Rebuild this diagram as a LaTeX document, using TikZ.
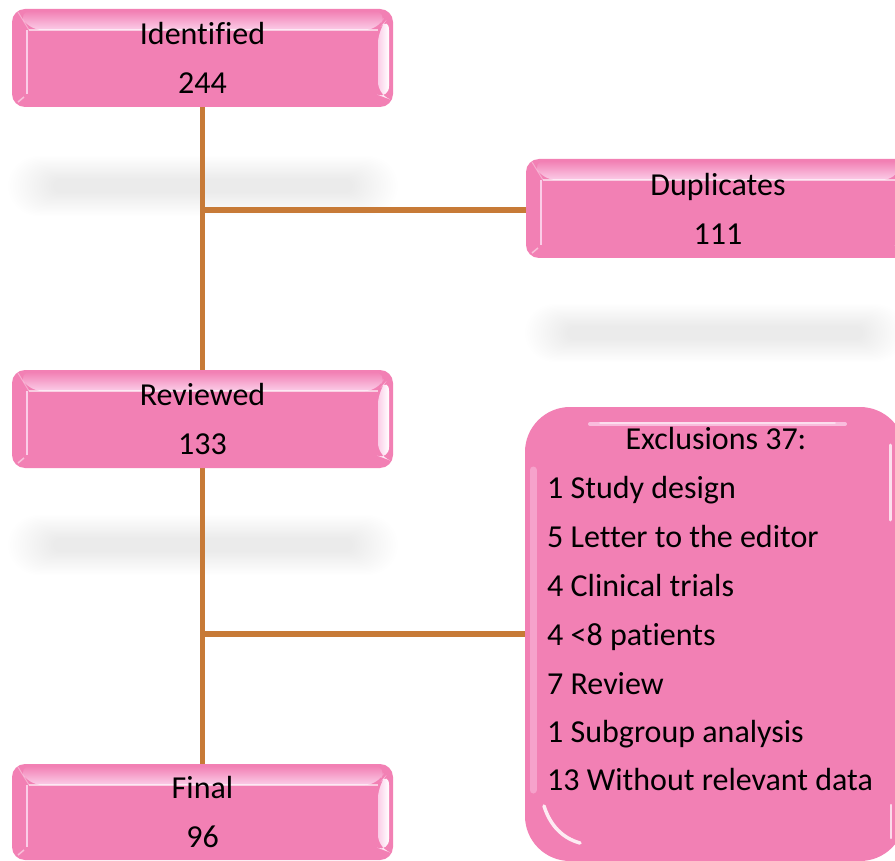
\documentclass[tikz,border=0pt]{standalone}
\usepackage{fontspec}
\setmainfont{Carlito}[Ligatures=NoCommon]
\usetikzlibrary{calc,backgrounds}
\definecolor{boxpink}{HTML}{F280B4}
\definecolor{pinklight}{HTML}{FBCDE8}
\definecolor{linebrown}{HTML}{C77A37}
\newcommand{\mysoftshadow}[6]{% cx cy ohw ohh ihw ihh
  \foreach \k in {0,...,19}{
    \pgfmathsetmacro{\hw}{#3-(#3-#5)*\k/19}
    \pgfmathsetmacro{\hh}{#4-(#4-#6)*\k/19}
    \fill[black,opacity=0.0048,rounded corners=\hh pt] (#1-\hw,#2-\hh) rectangle (#1+\hw,#2+\hh);
  }}
\tikzset{
  bevel/.style={path picture={
    \coordinate (pnw) at (path picture bounding box.north west);
    \coordinate (pne) at (path picture bounding box.north east);
    \coordinate (psw) at (path picture bounding box.south west);
    \coordinate (pse) at (path picture bounding box.south east);
    \shade[top color=boxpink, bottom color=pinklight]
      ($(pnw)+(6pt,-2pt)$) -- ($(pne)+(-6pt,-2pt)$) -- ($(pne)+(-15pt,-21pt)$) -- ($(pnw)+(17pt,-21pt)$) -- cycle;
    \draw[white,opacity=.6,line width=1.5pt] ($(pnw)+(17pt,-21pt)$) -- ($(pne)+(-15pt,-21pt)$);
    \shade[left color=pinklight, right color=white]
      ($(pne)+(-15pt,-21pt)$) -- ($(pne)+(-4pt,-8pt)$) -- ($(pse)+(-4pt,8pt)$) -- ($(pse)+(-15pt,12pt)$) -- cycle;
    \draw[pinklight,line width=2pt] ($(pnw)+(15pt,-21pt)$) -- ($(psw)+(15pt,13pt)$);
    \draw[white,opacity=.35,line width=1pt] ($(pnw)+(6pt,-3pt)$) -- ($(pnw)+(17pt,-21pt)$);
    \draw[white,opacity=.5,line width=1.5pt] ($(psw)+(6pt,5pt)$) -- ($(psw)+(12pt,10pt)$);
  }},
  flowbox/.style={rectangle, rounded corners=13pt, fill=boxpink, minimum width=381pt,
    minimum height=98pt, align=center, font=\fontsize{32}{49}\selectfont, inner sep=0pt, bevel},
  conn/.style={draw=linebrown, line width=5.5pt},
  listtext/.style={anchor=base west, inner sep=0pt, font=\fontsize{32}{37}\selectfont},
}
\begin{document}
\begin{tikzpicture}[x=1pt,y=-1pt]
\useasboundingbox (0,0) rectangle (895,861);
\clip (0,0) rectangle (895,861);
% boxes
\node[flowbox] (ident) at (202.5,58) {Identified\\244};
\node[flowbox, minimum width=384pt, minimum height=99pt] (dup) at (718,208.5) {Duplicates\\111};
\node[flowbox] (rev) at (202.5,419) {Reviewed\\133};
\node[flowbox, minimum height=96pt] (final) at (202.5,812) {Final\\96};
\node[rectangle, rounded corners=45pt, fill=boxpink, minimum width=380pt, minimum height=454pt,
      inner sep=0pt] (excl) at (715,634) {};
% bevel highlights of exclusions box
\draw[pinklight,opacity=.8,line width=4pt,line cap=round] (590,424) -- (845,424);
\draw[white,opacity=.5,line width=1.5pt,line cap=round] (600,423) -- (835,423);
\draw[white,opacity=.75,line width=3pt,line cap=round] (890,445) -- (890,520);
\draw[pinklight,opacity=.45,line width=7pt,line cap=round] (533,470) -- (533,790);
\draw[white,opacity=.85,line width=3.5pt,line cap=round] (544,806) .. controls (550,825) and (562,838) .. (580,843);
\draw[white,opacity=.7,line width=2.5pt,line cap=round] (891,805) -- (891,838);
% exclusions text
\node[anchor=base, inner sep=0pt, font=\fontsize{32}{37}\selectfont] (exclt) at (716,449) {Exclusions 37:};
\node[listtext] (e1) at (547,498) {1 Study design};
\node[listtext] (e2) at (547,547) {5 Letter to the editor};
\node[listtext] (e3) at (547,596) {4 Clinical trials};
\node[listtext] (e4) at (547,645) {4 <8 patients};
\node[listtext] (e5) at (547,694) {7 Review};
\node[listtext] (e6) at (547,742) {1 Subgroup analysis};
\node[listtext] (e7) at (547,790) {13 Without relevant data};
% background: shadows and connectors
\begin{scope}[on background layer]
\fill[white] (0,0) rectangle (895,861);
\mysoftshadow{203}{186}{195}{30}{150}{7}
\mysoftshadow{715}{333}{190}{29}{148}{7}
\mysoftshadow{203}{545}{195}{30}{150}{7}
\coordinate (j1) at (ident.south |- 0,210);
\coordinate (j2) at (ident.south |- excl.west);
\draw[conn] (ident.south) -- (final.north);
\draw[conn] (j1) -- (dup.west |- j1);
\draw[conn] (j2) -- (excl.west);
\end{scope}
\end{tikzpicture}
\end{document}
